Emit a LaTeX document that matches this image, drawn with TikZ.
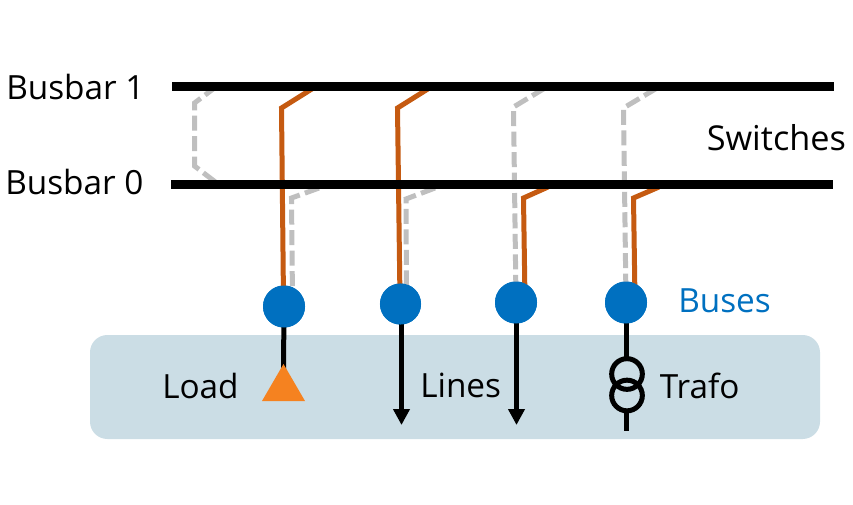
\documentclass[tikz,border=0pt]{standalone}
\usepackage{fontspec}
\setmainfont{Open Sans}
\usetikzlibrary{arrows.meta}
\definecolor{busblue}{HTML}{0070C0}
\definecolor{swon}{HTML}{C55A11}
\definecolor{swoff}{HTML}{BFBFBF}
\definecolor{panel}{HTML}{CBDDE5}
\definecolor{loadorange}{HTML}{F58220}
\tikzset{
  x=0.75pt,y=-0.75pt,
  busbar/.style={line width=6.75pt,black},
  closedsw/.style={line width=3.75pt,swon,line join=miter},
  opensw/.style={line width=3.75pt,swoff,dash pattern=on 11.25pt off 4.1pt},
  busnode/.style={circle,fill=busblue,draw=none,minimum size=31.5pt,inner sep=0pt},
  feeder/.style={line width=3.75pt,black},
  lineout/.style={feeder,-{Triangle[length=12pt,width=12pt]}},
  trafocoil/.style={circle,draw=black,line width=3.75pt,minimum size=23pt,inner sep=0pt,outer sep=0pt},
  lbl/.style={font=\fontsize{25pt}{28pt}\selectfont,inner sep=0pt,anchor=base west},
}
\begin{document}
\begin{tikzpicture}
\useasboundingbox (0,0) rectangle (853,504);
\fill[panel,rounded corners=13pt] (90,335) rectangle (820,439);
% named points
\coordinate (b1w) at (172,86.5); \coordinate (b1e) at (834,86.5);
\coordinate (b0w) at (171,184.5); \coordinate (b0e) at (833,184.5);
\node[busnode] (bus1) at (284,306.5) {};
\node[busnode,minimum size=30.75pt] (bus2) at (400.5,304) {};
\node[busnode] (bus3) at (516,302.5) {};
\node[busnode] (bus4) at (626,302.5) {};
% switches
\draw[opensw] (217,86) -- (194.5,103) -- (194.5,166) -- (218,184);
\draw[closedsw] (315,87) -- (281.5,108) -- (283.5,300);
\draw[opensw] (319,188) -- (291.5,198) -- (292.5,300);
\draw[closedsw] (431,87) -- (397.5,108) -- (400,300);
\draw[opensw] (435,188) -- (406,199) -- (406.5,300);
\draw[opensw] (545,88) -- (513.5,107) -- (516,300);
\draw[closedsw] (548,187) -- (523.5,198) -- (525,300);
\draw[opensw] (657,88) -- (623.5,108) -- (626,300);
\draw[closedsw] (659,187) -- (633.5,198) -- (635,300);
\draw[busbar] (b1w) -- (b1e);
\draw[busbar] (b0w) -- (b0e);
% feeders
\coordinate (loadtop) at (283.5,372);
\draw[feeder] (bus1.center) -- (loadtop);
\fill[loadorange] (283.5,364) coordinate (tri) -- (305,401) -- (262,401) -- cycle;
\coordinate (l2end) at (401.5,425);
\coordinate (l3end) at (516.5,425);
\draw[lineout] (bus2.center -| l2end) -- (l2end);
\draw[lineout] (bus3.center -| l3end) -- (l3end);
\node[trafocoil] (t1) at (627,374) {};
\node[trafocoil] (t2) at (627,395.5) {};
\coordinate (trafoend) at (626.5,431);
\draw[feeder] (bus4.center) -- (bus4.center |- t1.north);
\draw[feeder] (t2.south -| trafoend) -- (trafoend);
\fill[busblue] (bus1) circle (15.75pt);
\fill[busblue] (bus2) circle (15.4pt);
\fill[busblue] (bus3) circle (15.75pt);
\fill[busblue] (bus4) circle (15.75pt);
% labels
\node[lbl] (lb1) at (6,99) {Busbar 1};
\node[lbl] (lb0) at (5,194) {Busbar 0};
\node[lbl,font=\fontsize{25.7pt}{28pt}\selectfont] (lsw) at (706.5,150) {Switches};
\node[lbl,text=busblue] (lbu) at (678,312) {Buses};
\node[lbl] (lload) at (162,398) {Load};
\node[lbl] (llin) at (420,397) {Lines};
\node[lbl] (ltr) at (659.5,398) {Trafo};
\end{tikzpicture}
\end{document}
